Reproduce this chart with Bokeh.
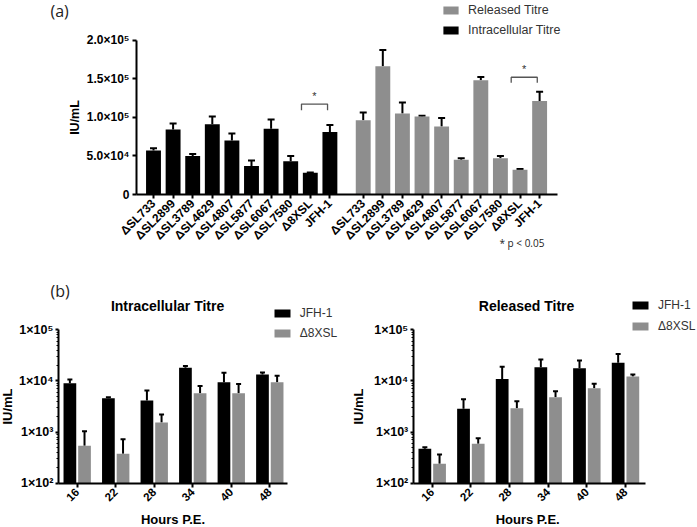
import math
from bokeh.plotting import figure
from bokeh.models import (ColumnDataSource, Range1d, FixedTicker, CustomJSTickFormatter,
                          Whisker, TeeHead, Legend, LegendItem, Label)
from bokeh.layouts import column, row
from bokeh.embed import file_html
from bokeh.resources import INLINE

# ---------------- data (a) ----------------
strains = ["ΔSL733", "ΔSL2899", "ΔSL3789", "ΔSL4629", "ΔSL4807",
           "ΔSL5877", "ΔSL6067", "ΔSL7580", "Δ8XSL", "JFH-1"]
intracellular = [57000, 84000, 50000, 91000, 70000, 37000, 85000, 43000, 28000, 81000]
intracellular_err = [3000, 8000, 2500, 10000, 9000, 7000, 12000, 7000, 600, 9000]
released = [96000, 166000, 105000, 101000, 88000, 45000, 148000, 47000, 32000, 121000]
released_err = [10000, 21000, 14000, 1000, 11000, 2000, 4000, 3000, 1000, 12000]
y_ticks_a = [0, 50000, 100000, 150000, 200000]
y_labels_a = ["0", "5.0×10⁴", "1.0×10⁵", "1.5×10⁵", "2.0×10⁵"]

# ---------------- data (b) ----------------
hours = ["16", "22", "28", "34", "40", "48"]
intra_jfh = [9000, 4560, 4150, 18200, 9400, 13400]
intra_jfh_err = [1700, 240, 2350, 1500, 5000, 1200]
intra_d8 = [540, 376, 1540, 5740, 5740, 9400]
intra_d8_err = [500, 350, 660, 2260, 2960, 3300]
rel_jfh = [471, 2850, 10900, 18600, 17800, 22600]
rel_jfh_err = [34, 1550, 8100, 7700, 7200, 11100]
rel_d8 = [240, 590, 2930, 4800, 7200, 12200]
rel_d8_err = [125, 170, 1070, 1500, 1600, 1100]
y_ticks_b = [100, 1000, 10000, 100000]
y_labels_b = ["1×10²", "1×10³", "1×10⁴", "1×10⁵"]

FONT = "Liberation Sans"
BLACK = "#000000"
GRAY = "#8e8e8e"
TXT = "#333333"


def style_axes(p, lw=2):
    p.xgrid.grid_line_color = None
    p.ygrid.grid_line_color = None
    p.outline_line_color = None
    for ax in p.axis:
        ax.axis_line_width = lw
        ax.axis_line_color = BLACK
        ax.major_tick_line_width = lw
        ax.major_tick_line_color = BLACK
        ax.major_tick_in = 0
        ax.major_tick_out = 4
        ax.major_label_text_font = FONT
        ax.major_label_text_font_style = "bold"
        ax.major_label_text_color = BLACK
        ax.axis_label_text_font = FONT
        ax.axis_label_text_font_style = "bold"
        ax.axis_label_text_color = BLACK


def add_bars(p, xs, tops, errs, color, width, bottom, head):
    src = ColumnDataSource(dict(x=xs, top=tops, upper=[t + e for t, e in zip(tops, errs)]))
    r = p.vbar(x="x", top="top", bottom=bottom, width=width, source=src,
               fill_color=color, line_color=None)
    w = Whisker(source=src, base="x", lower="top", upper="upper", line_width=2,
                line_color=BLACK, lower_head=None,
                upper_head=TeeHead(size=head, line_width=2, line_color=BLACK))
    p.add_layout(w)
    return r


def text(p, x, y, s, size, font=FONT, style="normal", align="left", baseline="middle",
         color=BLACK, angle=0.0):
    p.add_layout(Label(x=x, y=y, x_units="screen", y_units="screen", text=s, angle=angle,
                       text_align=align, text_baseline=baseline, text_font=font,
                       text_font_size=size, text_font_style=style, text_color=color))


# ================= panel (a) =================
WA, HA = 697, 262
gray_start = 10.7
x_black = [float(i) for i in range(len(strains))]
x_gray = [gray_start + i for i in range(len(strains))]
xa_lo, xa_hi = -0.867, 20.6
ka = y_ticks_a[-1] / 154.5
pxa = 19.6

pa = figure(width=WA, height=HA, output_backend="svg", toolbar_location=None,
            x_range=Range1d(-153 / pxa, (WA - 153) / pxa),
            y_range=Range1d(-(HA - 194) * ka, 194 * ka), min_border=0)
style_axes(pa)
rb = add_bars(pa, x_black, intracellular, intracellular_err, BLACK, 0.76, 0, 7)
rg = add_bars(pa, x_gray, released, released_err, GRAY, 0.76, 0, 7)

pa.xaxis.fixed_location = 0
pa.xaxis.bounds = (xa_lo, xa_hi)
pa.xaxis.ticker = FixedTicker(ticks=x_black + x_gray)
pa.xaxis.formatter = CustomJSTickFormatter(
    args=dict(pos=x_black + x_gray, labs=strains + strains),
    code="const i = pos.findIndex(p => Math.abs(p - tick) < 1e-6); return i < 0 ? '' : labs[i];")
pa.xaxis.major_label_orientation = math.pi / 4
pa.xaxis.major_label_text_font_size = "12px"
pa.xaxis.major_label_standoff = 3
pa.yaxis.fixed_location = xa_lo
pa.yaxis.bounds = (y_ticks_a[0], y_ticks_a[-1])
pa.yaxis.ticker = FixedTicker(ticks=y_ticks_a)
pa.yaxis.major_label_overrides = dict(zip(y_ticks_a, y_labels_a))
pa.yaxis.major_label_text_font_size = "12px"
pa.yaxis.major_label_standoff = 3
pa.yaxis.axis_label = "IU/mL"
pa.yaxis.axis_label_text_font_size = "12.5px"
pa.yaxis.axis_label_standoff = 2

# significance brackets
for xs, lo, hi in [(x_black, 109000, 117000), (x_gray, 144600, 151800)]:
    xa, xb = xs[8] - 0.45, xs[9] - 0.12
    pa.line(x=[xa, xa, xb, xb], y=[lo, hi, hi, lo], line_color="#555555", line_width=1.3)
    pa.add_layout(Label(x=(xa + xb) / 2, y=hi + 2500, text="*", text_align="center",
                        text_baseline="bottom", text_font=FONT, text_font_size="11px",
                        text_color="#333333"))

leg_a = Legend(items=[LegendItem(label="Released Titre", renderers=[rg]),
                      LegendItem(label="Intracellular Titre", renderers=[rb])],
               location=(441, 225), glyph_width=19, glyph_height=10, label_height=10,
               spacing=6, padding=0, margin=0, label_standoff=8,
               border_line_color=None, background_fill_alpha=0,
               label_text_font=FONT, label_text_font_size="12.5px", label_text_color=TXT)
pa.add_layout(leg_a)
text(pa, 50, HA - 10, "(a)", "16px", font="Open Sans", color="#222222")
text(pa, 499, HA - 242.7, "* p < 0.05", "10px", font="Open Sans", color="#222222")


# ================= panel (b) =================
HB = 265
dec = 51.13
y_top_px, y_bot_px = 67.3, 220.7


def make_b(title, jfh, jfh_err, d8, d8_err, width, x0, px_unit, x_end, leg_loc,
           leg_spacing, title_x, axis_title):
    lo = 10 ** (2 - (HB - y_bot_px) / dec)
    hi = 10 ** (5 + y_top_px / dec)
    p = figure(width=width, height=HB, output_backend="svg", toolbar_location=None,
               x_range=Range1d(-x0 / px_unit, (width - x0) / px_unit), y_range=Range1d(lo, hi),
               y_axis_type="log", min_border=0)
    style_axes(p)
    xs = list(range(len(hours)))
    r1 = add_bars(p, [x - 0.19 for x in xs], jfh, jfh_err, BLACK, 0.33, y_ticks_b[0], 5)
    r2 = add_bars(p, [x + 0.19 for x in xs], d8, d8_err, GRAY, 0.33, y_ticks_b[0], 5)
    p.xaxis.fixed_location = y_ticks_b[0]
    p.xaxis.bounds = (-0.49, x_end)
    p.xaxis.ticker = FixedTicker(ticks=xs)
    p.xaxis.major_label_overrides = dict(zip(xs, hours))
    p.xaxis.major_label_orientation = math.pi / 4
    p.xaxis.major_label_text_font_size = "11.5px"
    p.xaxis.major_label_standoff = 3
    p.xaxis.axis_label = axis_title
    p.xaxis.axis_label_text_font_size = "13px"
    p.xaxis.axis_label_standoff = 4
    minors = [m * d for d in y_ticks_b[:-1] for m in range(2, 10)]
    p.yaxis.fixed_location = -0.49
    p.yaxis.bounds = (y_ticks_b[0], y_ticks_b[-1])
    p.yaxis.ticker = FixedTicker(ticks=y_ticks_b, minor_ticks=minors)
    p.yaxis.major_label_overrides = dict(zip(y_ticks_b, y_labels_b))
    p.yaxis.major_label_text_font_size = "12.5px"
    p.yaxis.major_label_standoff = 2
    p.yaxis.major_tick_out = 3
    p.yaxis.minor_tick_in = 0
    p.yaxis.minor_tick_out = 2
    p.yaxis.minor_tick_line_color = BLACK
    p.yaxis.minor_tick_line_width = 1
    text(p, title_x, HB - 43, title, "14px", style="bold", align="center")
    leg = Legend(items=[LegendItem(label="JFH-1", renderers=[r1]),
                        LegendItem(label="Δ8XSL", renderers=[r2])],
                 location=leg_loc, glyph_width=20, glyph_height=10, label_height=10,
                 spacing=leg_spacing, padding=0, margin=0, label_standoff=8,
                 border_line_color=None, background_fill_alpha=0,
                 label_text_font=FONT, label_text_font_size="12px", label_text_color=TXT)
    p.add_layout(leg)
    return p


pl = make_b("Intracellular  Titre", intra_jfh, intra_jfh_err, intra_d8, intra_d8_err,
            348, 76.7, 38.52, 5.452, (271.7, 187), 6, 169, "Hours P.E.")
text(pl, 7, HB - 144, "IU/mL", "13px", style="bold", align="center", angle=math.pi / 2)
text(pl, 50, HB - 28, "(b)", "16px", font="Open Sans", color="#222222")

pr = make_b("Released  Titre", rel_jfh, rel_jfh_err, rel_d8, rel_d8_err,
            349, 83.7, 38.66, 5.517, (282, 193.7), 7, 180, "Hours  P.E.")
pr.yaxis.axis_label = "IU/mL"
pr.yaxis.axis_label_text_font_size = "13px"
pr.yaxis.axis_label_standoff = 5

layout = column(pa, row(pl, pr))
open("out.html", "w").write(file_html(layout, INLINE))
